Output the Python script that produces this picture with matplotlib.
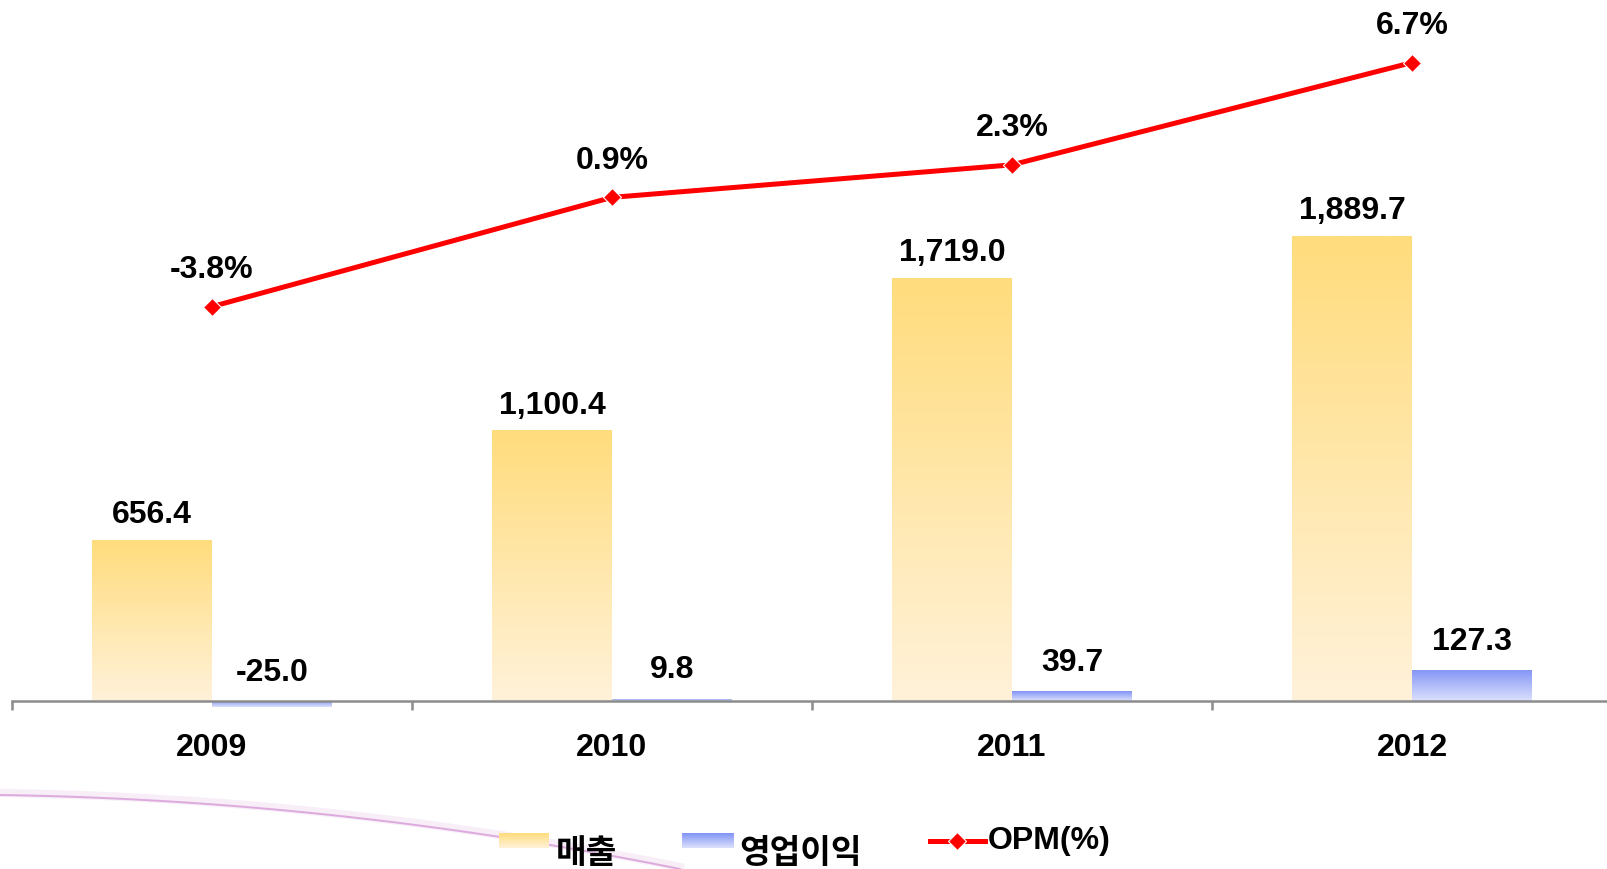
import matplotlib
matplotlib.use('Agg')
import matplotlib.pyplot as plt
import numpy as np
from matplotlib.colors import LinearSegmentedColormap
from matplotlib.lines import Line2D

plt.rcParams['font.family'] = ['Liberation Sans', 'Noto Sans CJK KR', 'DejaVu Sans']
plt.rcParams['font.weight'] = 'bold'

# ---- data ----
years = ['2009', '2010', '2011', '2012']
sales = [656.4, 1100.4, 1719.0, 1889.7]
op_profit = [-25.0, 9.8, 39.7, 127.3]
opm = [-3.8, 0.9, 2.3, 6.7]
sales_labels = ['656.4', '1,100.4', '1,719.0', '1,889.7']
op_labels = ['-25.0', '9.8', '39.7', '127.3']
opm_labels = ['-3.8%', '0.9%', '2.3%', '6.7%']
legend_names = ['매출', '영업이익', 'OPM(%)']

# ---- style ----
W, H = 1608, 869
YEL_TOP, YEL_BOT = '#FFDC7C', '#FFF2DA'
BLU_TOP, BLU_BOT = '#8294F6', '#DCE1FC'
RED = '#FF0000'
GRAY = '#8C8C8C'
FS = 23
FS_KR = 24

yel_cmap = LinearSegmentedColormap.from_list('yel', [YEL_BOT, YEL_TOP])
blu_cmap = LinearSegmentedColormap.from_list('blu', [BLU_BOT, BLU_TOP])
grad = np.linspace(0, 1, 256).reshape(-1, 1)

fig = plt.figure(figsize=(W / 100, H / 100), dpi=100)
ax = fig.add_axes([12 / W, (H - 720) / H, 1600 / W, 720 / H])
ax.patch.set_alpha(0)

x = np.arange(len(years))
bw = 0.3
ylim = (-77.2, 2849.6)


def gradient_bars(xs, vals, cmap):
    bars = ax.bar(xs, vals, width=bw, align='edge', color='none', edgecolor='none')
    for b in bars:
        x0, y0 = b.get_x(), b.get_y()
        w, h = b.get_width(), b.get_height()
        y1 = y0 + h
        lo, hi = min(y0, y1), max(y0, y1)
        im = ax.imshow(grad, cmap=cmap, origin='lower', aspect='auto',
                       extent=(x0, x0 + w, lo, hi), zorder=2, interpolation='bilinear')
        im.set_clip_path(b)
    return bars


gradient_bars(x - bw, sales, yel_cmap)
gradient_bars(x, op_profit, blu_cmap)

ax.set_xlim(-0.5, len(years) - 0.5)
ax.set_ylim(*ylim)

for s in ['top', 'right', 'left']:
    ax.spines[s].set_visible(False)
ax.spines['bottom'].set_position(('data', 0))
ax.spines['bottom'].set_color(GRAY)
ax.spines['bottom'].set_linewidth(1.8)
ax.spines['bottom'].set_zorder(3)
ax.set_yticks([])
ax.set_xticks(np.arange(-0.5, len(years)), labels=[''] * (len(years) + 1))
ax.tick_params(axis='x', which='major', direction='out', length=6.5, width=1.8, color=GRAY)
ax.set_xticks(x, minor=True)
ax.set_xticklabels(years, minor=True, fontsize=FS, fontweight='bold')
ax.tick_params(axis='x', which='minor', length=0, pad=23)

for xi, v, t in zip(x - bw / 2, sales, sales_labels):
    ax.annotate(t, xy=(xi, v), xytext=(0, 12), textcoords='offset points',
                ha='center', va='baseline', fontsize=FS, fontweight='bold')
for xi, v, t in zip(x + bw / 2, op_profit, op_labels):
    ax.annotate(t, xy=(xi, max(v, 0)), xytext=(0, 14.5), textcoords='offset points',
                ha='center', va='baseline', fontsize=FS, fontweight='bold')

# ---- OPM line on secondary axis ----
ax2 = ax.twinx()
ax2.set_ylim(-21.589, 9.393)
ax2.axis('off')
ax2.plot(x, opm, color=RED, lw=3.6, marker='D', ms=9.5, mfc=RED,
         mec='white', mew=0.8, zorder=4, solid_capstyle='butt')
for xi, v, t in zip(x, opm, opm_labels):
    ax2.annotate(t, xy=(xi, v), xytext=(0, 20.5), textcoords='offset points',
                 ha='center', va='baseline', fontsize=FS, fontweight='bold')

# ---- decorative curve ----
t = np.linspace(0, 1, 60)
cxp = 680 * t
cyp = 795 + 10 * t + 64 * t ** 2
cx = cxp / W
cy = 1 - cyp / H
fig.add_artist(Line2D(cx, cy + 2 / H, color='#F5E8F5', lw=6, alpha=0.7, zorder=0))
fig.add_artist(Line2D(cx, cy, color='#DDAADD', lw=1.4, zorder=0))

# ---- legend ----
def swatch(x0, x1, y0, y1, cmap):
    sax = fig.add_axes([x0 / W, 1 - y1 / H, (x1 - x0) / W, (y1 - y0) / H])
    sax.imshow(grad, cmap=cmap, origin='lower', aspect='auto')
    sax.axis('off')

swatch(499, 549, 833, 848, yel_cmap)
fig.text(556 / W, 1 - 855 / H, legend_names[0], fontsize=FS_KR, fontweight='bold',
         va='center', ha='left')
swatch(682, 734, 833, 848, blu_cmap)
fig.text(739 / W, 1 - 855 / H, legend_names[1], fontsize=FS_KR, fontweight='bold',
         va='center', ha='left')
ly = 1 - 841 / H
fig.add_artist(Line2D([930 / W, 985 / W], [ly, ly], color=RED, lw=3.6))
fig.add_artist(Line2D([957.5 / W], [ly], color=RED, marker='D', ms=9.5,
                      mfc=RED, mec='white', mew=0.8))
fig.text(988 / W, ly, legend_names[2], fontsize=FS, fontweight='bold',
         va='center', ha='left')

fig.savefig('out.png', dpi=100)
